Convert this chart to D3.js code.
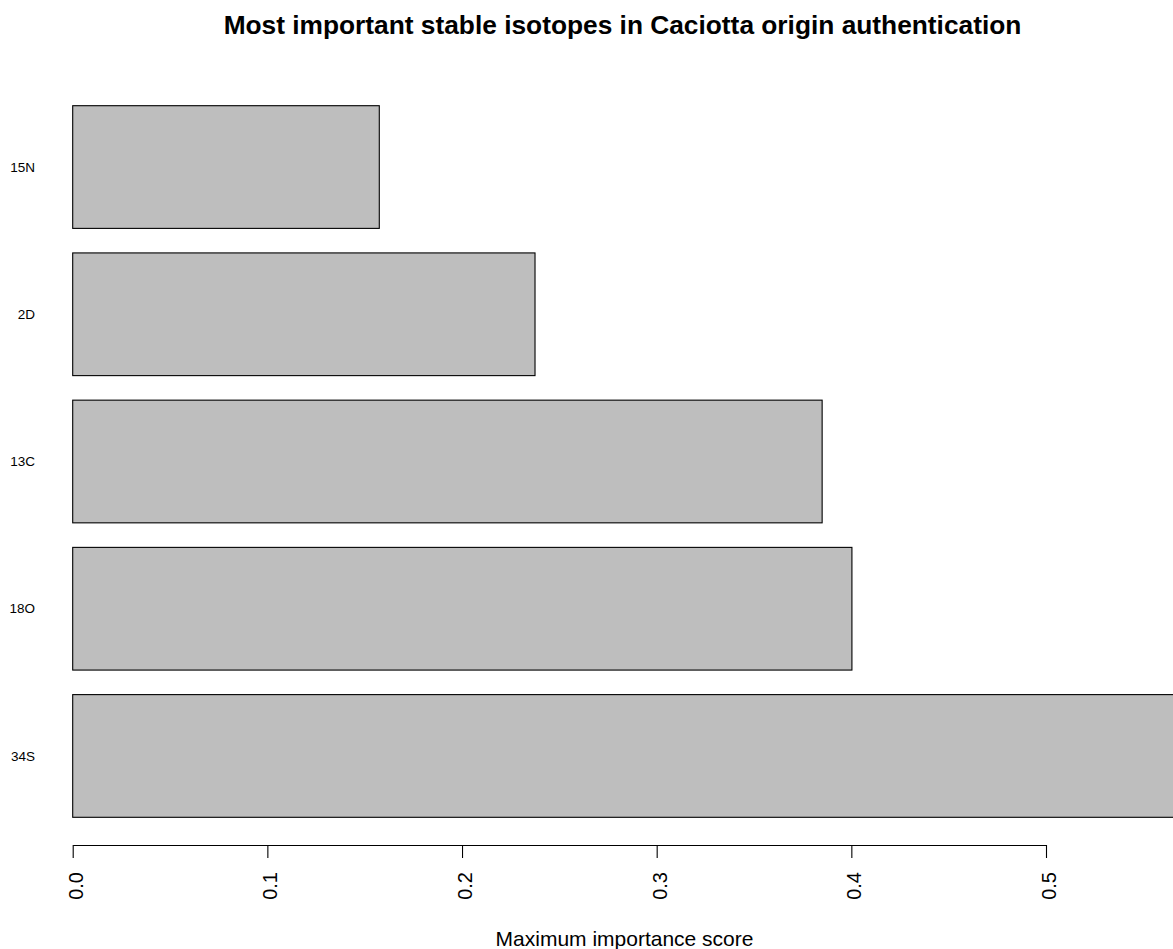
<!DOCTYPE html>
<html>
<head>
<meta charset="utf-8">
<script src="https://cdn.jsdelivr.net/npm/d3@7"></script>
<style>
  html, body { margin: 0; padding: 0; background: #fff; }
  svg { display: block; font-family: "Liberation Sans", Arial, sans-serif; }
</style>
</head>
<body>
<svg id="chart" width="1173" height="949"></svg>
<script>
// Isotopes, listed top to bottom
const isotopes = ["15N", "2D", "13C", "18O", "34S"];
// Maximum importance score for each isotope
const scores = [0.1575, 0.2375, 0.385, 0.4003, 0.58];
// Tick values of the score axis
const scoreTicks = [0, 0.1, 0.2, 0.3, 0.4, 0.5];

const titleText = "Most important stable isotopes in Caciotta origin authentication";
const xTitleText = "Maximum importance score";

const width = 1173, height = 949;
const svg = d3.select("#chart");

const x = d3.scaleLinear().domain([0, 0.5]).range([72.7, 1046]);
const y = d3.scaleBand()
  .domain(isotopes)
  .range([105.7, 817.3])
  .paddingInner(1 / 6)
  .paddingOuter(0);

const rows = isotopes.map((k, i) => ({ key: k, value: scores[i] }));

// Bars
svg.append("g")
  .selectAll("rect")
  .data(rows)
  .join("rect")
  .attr("x", x(0))
  .attr("y", d => y(d.key))
  .attr("width", d => x(d.value) - x(0))
  .attr("height", y.bandwidth())
  .attr("fill", "#bebebe")
  .attr("stroke", "#000")
  .attr("stroke-width", 1.1);

// Category labels
svg.append("g")
  .selectAll("text")
  .data(rows)
  .join("text")
  .attr("x", 35)
  .attr("y", d => y(d.key) + y.bandwidth() / 2)
  .attr("dy", "0.35em")
  .attr("text-anchor", "end")
  .attr("font-size", 13.5)
  .attr("fill", "#000")
  .text(d => d.key);

// Score axis
const axisY = 845;
const xAxis = svg.append("g")
  .attr("transform", `translate(0,${axisY})`)
  .call(d3.axisBottom(x)
    .tickValues(scoreTicks)
    .tickFormat(d3.format(".1f"))
    .tickSize(13)
    .tickSizeOuter(0));
xAxis.select(".domain").attr("stroke", "#000").attr("stroke-width", 1.1);
xAxis.selectAll(".tick line").attr("stroke", "#000").attr("stroke-width", 1.1);
xAxis.selectAll(".tick text")
  .attr("font-size", 20)
  .attr("font-family", "Liberation Sans, Arial, sans-serif")
  .attr("fill", "#000")
  .attr("text-anchor", "end")
  .attr("x", 0)
  .attr("y", 0)
  .attr("dy", "0.35em")
  .attr("transform", "translate(2.5,27) rotate(-90)");

// Axis title
svg.append("text")
  .attr("x", 624.5)
  .attr("y", 946)
  .attr("text-anchor", "middle")
  .attr("font-size", 21)
  .attr("fill", "#000")
  .text(xTitleText);

// Chart title
svg.append("text")
  .attr("x", 622.5)
  .attr("y", 33.5)
  .attr("text-anchor", "middle")
  .attr("font-size", 26.3)
  .attr("font-weight", "bold")
  .attr("fill", "#000")
  .text(titleText);
</script>
</body>
</html>
